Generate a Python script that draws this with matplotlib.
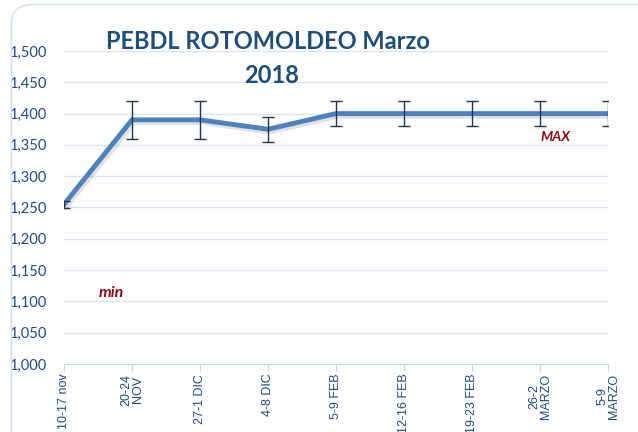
import matplotlib.pyplot as plt
import matplotlib.patheffects as pe
from matplotlib.patches import FancyBboxPatch
import matplotlib.ticker as mticker

semanas = ['10-17 nov', '20-24\nNOV', '27-1 DIC', '4-8 DIC', '5-9 FEB',
           '12-16 FEB', '19-23 FEB', '26-2\nMARZO', '5-9\nMARZO']
precio = [1255, 1390, 1390, 1375, 1400, 1400, 1400, 1400, 1400]
error = [6, 30, 30, 20, 20, 20, 20, 20, 20]

azul_texto = '#1F497D'
azul_linea = '#4F81BD'
grid_color = '#D9E4F1'

plt.rcParams['font.family'] = ['Lato', 'DejaVu Sans']

fig = plt.figure(figsize=(6.38, 4.32), dpi=100)
# marco redondeado del grafico
fig.patches.append(FancyBboxPatch((0.018, -0.05), 1.1, 1.04, boxstyle='round,pad=0,rounding_size=0.04',
                                  transform=fig.transFigure, fill=False, edgecolor='#D5E1EF', linewidth=1.2))

ax = fig.add_axes([0.1003, 0.1574, 0.8527, 0.7246])
x = list(range(len(semanas)))
ax.plot(x, precio, color=azul_linea, linewidth=3.5, solid_joinstyle='miter', zorder=3,
        path_effects=[pe.SimpleLineShadow(offset=(1.5, -2), shadow_color='#888888', alpha=0.25), pe.Normal()])
ax.errorbar(x, precio, yerr=error, fmt='none', ecolor='#1F3550', elinewidth=1, capsize=4, capthick=1, zorder=4)

ax.set_xlim(0, len(semanas) - 1)
ax.set_ylim(1000, 1500)
ax.yaxis.set_major_locator(mticker.MultipleLocator(50))
ax.yaxis.set_major_formatter(mticker.FuncFormatter(lambda v, p: f'{v:,.0f}'))
ax.grid(axis='y', color=grid_color, linewidth=1)
ax.set_axisbelow(True)
for s in ['top', 'right', 'left']:
    ax.spines[s].set_visible(False)
ax.spines['bottom'].set_color('#C6D6EA')
ax.set_xticks(x)
ax.set_xticklabels(semanas, rotation=90, fontsize=9, color=azul_texto, linespacing=0.95,
                   family=['Liberation Sans', 'DejaVu Sans'])
ax.tick_params(axis='x', colors='#C6D6EA', length=5, labelcolor=azul_texto, pad=2)
ax.tick_params(axis='y', length=0, labelsize=10.5, labelcolor=azul_texto, pad=12)

fig.text(0.42, 0.905, 'PEBDL ROTOMOLDEO Marzo', ha='center', va='center', fontsize=17,
         fontweight='bold', color='#1F4E79')
fig.text(0.426, 0.826, '2018', ha='center', va='center', fontsize=17,
         fontweight='bold', color='#1F4E79')
fig.text(0.175, 0.322, 'min', ha='center', va='center', fontsize=11.5, fontweight='bold',
         fontstyle='italic', color='#8B0A0A')
fig.text(0.87, 0.683, 'MAX', ha='center', va='center', fontsize=10, fontweight='bold',
         fontstyle='italic', color='#8B0A0A')

fig.savefig('out.png', dpi=100)
